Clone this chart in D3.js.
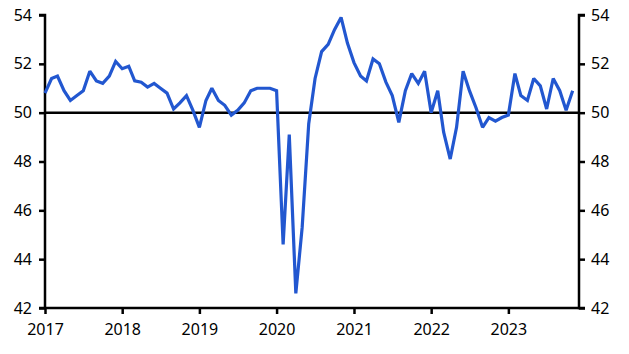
<!DOCTYPE html>
<html>
<head>
<meta charset="utf-8">
<script src="https://cdn.jsdelivr.net/npm/d3@7"></script>
<style>
  html, body { margin: 0; padding: 0; background: #fff; }
  svg { display: block; }
  text { font-family: "Noto Sans", "Open Sans", sans-serif; }
</style>
</head>
<body>
<svg id="chart" width="629" height="354"></svg>
<script>
// Monthly values, Jan 2017 – Nov 2023
const startYear = 2017;
const values2017 = [50.8, 51.4, 51.5, 50.9, 50.5, 50.7, 50.9, 51.7, 51.3, 51.2, 51.5, 52.1];
const values2018 = [51.8, 51.9, 51.3, 51.25, 51.05, 51.2, 51.0, 50.8, 50.15, 50.4, 50.7, 50.1];
const values2019 = [49.4, 50.5, 51.0, 50.5, 50.3, 49.9, 50.1, 50.4, 50.9, 51.0, 51.0, 51.0];
const values2020 = [50.9, 44.6, 49.1, 42.6, 45.3, 49.55, 51.4, 52.5, 52.8, 53.4, 53.9, 52.85];
const values2021 = [52.05, 51.5, 51.3, 52.2, 52.0, 51.25, 50.7, 49.6, 50.9, 51.6, 51.2, 51.7];
const values2022 = [50.0, 50.9, 49.2, 48.1, 49.4, 51.7, 50.9, 50.2, 49.4, 49.8, 49.65, 49.8];
const values2023 = [49.9, 51.6, 50.7, 50.5, 51.4, 51.1, 50.15, 51.4, 50.9, 50.1, 50.9];
const yTicks = [42, 44, 46, 48, 50, 52, 54];
const xTickYears = [2017, 2018, 2019, 2020, 2021, 2022, 2023];

const series = [].concat(values2017, values2018, values2019, values2020, values2021, values2022, values2023)
  .map((v, i) => ({ date: new Date(startYear + Math.floor(i / 12), i % 12, 1), value: v }));

const W = 629, H = 354;
const margin = { left: 45, right: 50, top: 15, bottom: 46 };
const svg = d3.select("#chart");

const x = d3.scaleTime()
  .domain([new Date(2017, 0, 1), new Date(2023, 11, 1)])
  .range([margin.left, W - margin.right]);
const y = d3.scaleLinear()
  .domain([42, 54])
  .range([H - margin.bottom, margin.top]);

const fontSize = 16;

// Left axis
const gl = svg.append("g")
  .attr("transform", `translate(${margin.left},0)`)
  .call(d3.axisLeft(y).tickValues(yTicks).tickSize(6).tickPadding(7).tickFormat(d3.format("d")));
// Right axis
const gr = svg.append("g")
  .attr("transform", `translate(${W - margin.right},0)`)
  .call(d3.axisRight(y).tickValues(yTicks).tickSize(6).tickPadding(6).tickFormat(d3.format("d")));
// Bottom axis
const gb = svg.append("g")
  .attr("transform", `translate(0,${H - margin.bottom})`)
  .call(d3.axisBottom(x).tickValues(xTickYears.map(yr => new Date(yr, 0, 1)))
    .tickSize(6).tickPadding(10).tickFormat(d3.timeFormat("%Y")));

[gl, gr, gb].forEach(g => {
  g.select(".domain").attr("stroke", "#000").attr("stroke-width", 2.5);
  g.selectAll(".tick line").attr("stroke", "#000").attr("stroke-width", 2.5);
  g.selectAll(".tick text").attr("fill", "#000").style("font-size", fontSize + "px")
    .style("font-family", '"Noto Sans", "Open Sans", sans-serif');
});
gl.select(".domain").attr("d", `M-6,${y(54)}H0V${y(42)}H-6`);
gr.select(".domain").attr("d", `M6,${y(54)}H0V${y(42)}H6`);
gb.select(".domain").attr("d", `M${margin.left},0H${W - margin.right}`);

// 50 reference line
svg.append("line")
  .attr("x1", margin.left).attr("x2", W - margin.right)
  .attr("y1", y(50)).attr("y2", y(50))
  .attr("stroke", "#000").attr("stroke-width", 2.5);

// Data line
const line = d3.line().x(d => x(d.date)).y(d => y(d.value));
svg.append("path")
  .datum(series)
  .attr("fill", "none")
  .attr("stroke", "#2257d0")
  .attr("stroke-width", 3.2)
  .attr("stroke-linejoin", "miter")
  .attr("stroke-miterlimit", 2)
  .attr("d", line);
</script>
</body>
</html>
